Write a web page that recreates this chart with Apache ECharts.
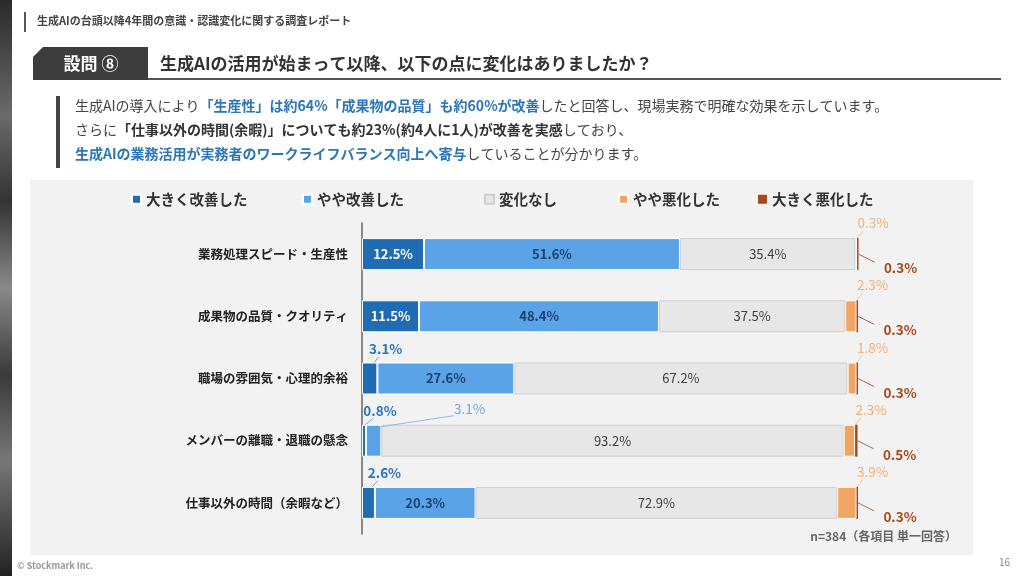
<!DOCTYPE html>
<html>
<head>
<meta charset="utf-8">
<script src="https://cdn.jsdelivr.net/npm/echarts@6/dist/echarts.min.js"></script>
<style>
  html, body { margin: 0; padding: 0; background: #fff; }
  #main { width: 1024px; height: 576px; }
</style>
</head>
<body>
<div id="main"></div>
<script>
// データ
var categories = ['業務処理スピード・生産性', '成果物の品質・クオリティ', '職場の雰囲気・心理的余裕', 'メンバーの離職・退職の懸念', '仕事以外の時間（余暇など）'];
var seriesNames = ['大きく改善した', 'やや改善した', '変化なし', 'やや悪化した', '大きく悪化した'];
var bigBetter = [12.5, 11.5, 3.1, 0.8, 2.6];
var littleBetter = [51.6, 48.4, 27.6, 3.1, 20.3];
var noChange = [35.4, 37.5, 67.2, 93.2, 72.9];
var littleWorse = [0.3, 2.3, 1.8, 2.3, 3.9];
var bigWorse = [0.3, 0.3, 0.3, 0.5, 0.3];

var allData = [bigBetter, littleBetter, noChange, littleWorse, bigWorse];
var colors = ['#1f6cb5', '#5aa3e6', '#e7e7e7', '#f2a463', '#a54a1c'];
var font = '"Noto Sans CJK JP", "Noto Sans", sans-serif';

var myChart = echarts.init(document.getElementById('main'));

var insideColors = ['#ffffff', '#1b426e', '#404040'];
var outsideColors = ['#2e75b6', '#6aaae6', '#404040', '#f0b07a', '#a54a1c'];
var lineColors = ['#7aa8d6', '#8dbbe8', '#999', '#f0c49c', '#a56a4c'];

var series = seriesNames.map(function (name, i) {
    return {
        name: name,
        type: 'bar',
        stack: 'total',
        barWidth: 32,
        data: allData[i].map(function (v) {
            return { value: v, label: { show: v >= 5 } };
        }),
        itemStyle: {
            color: colors[i],
            borderColor: i === 2 ? '#cfcfcf' : '#ffffff',
            borderWidth: i === 4 ? 0 : 1
        },
        label: {
            position: 'inside',
            fontFamily: font,
            fontSize: 13,
            fontWeight: i === 2 ? 'normal' : 'bold',
            color: insideColors[i],
            formatter: function (p) { return p.value.toFixed(1) + '%'; }
        }
    };
});

// 小さい値は外側ラベル＋引き出し線（custom系列）
var smallItems = [];
categories.forEach(function (c, j) {
    var cum = 0;
    allData.forEach(function (arr, i) {
        var v = arr[j];
        if (v < 5) smallItems.push([j, i, cum, cum + v, v]);
        cum += v;
    });
});

series.push({
    type: 'custom',
    name: 'labels',
    z: 5,
    clip: false,
    silent: true,
    encode: { x: 3, y: 0 },
    data: smallItems,
    renderItem: function (params, api) {
        var j = api.value(0), s = api.value(1);
        var p0 = api.coord([api.value(2), j]);
        var p1 = api.coord([api.value(3), j]);
        var x0 = p0[0], x1 = p1[0], yc = p0[1];
        var top = yc - 16, w = x1 - x0;
        var cx, cy, a, b;
        if (s === 0) {
            cx = x0 + w / 2 + 16; cy = top - 14;
            a = [x0 + w * 0.8, top]; b = [cx - 7, cy + 8];
        } else if (s === 1) {
            cx = x0 + w / 2 + 96; cy = top - 16;
            a = [x1, top + 2]; b = [cx - 16, cy + 7];
        } else if (s === 3) {
            cx = x1 + 16; cy = top - 15;
            a = [x1, top]; b = [cx - 10, cy + 8];
        } else {
            cx = x1 + 42; cy = yc + 14;
            a = [x1, yc]; b = [cx - 26, cy - 6];
        }
        return {
            type: 'group',
            children: [
                { type: 'line', shape: { x1: a[0], y1: a[1], x2: b[0], y2: b[1] },
                  style: { stroke: lineColors[s], lineWidth: 1 } },
                { type: 'text', style: {
                    x: cx, y: cy, text: api.value(4).toFixed(1) + '%',
                    fill: outsideColors[s], align: 'center', verticalAlign: 'middle',
                    font: ((s === 0 || s === 4) ? 'bold ' : '') + '13.5px ' + font } }
            ]
        };
    }
});

var legendLeft = [126, 297, 479, 613, 753];
var legends = seriesNames.map(function (name, i) {
    return {
        data: [name],
        left: legendLeft[i],
        top: 187,
        icon: 'rect',
        itemWidth: 9,
        itemHeight: 9,
        itemGap: 0,
        selectedMode: false,
        textStyle: { fontFamily: font, fontSize: 14.5, fontWeight: 'bold', color: '#333' }
    };
});

var q1 = '{n|生成AIの導入により}{b|「生産性」は約64%「成果物の品質」も約60%が改善}{n|したと回答し、現場実務で明確な効果を示しています。}';
var q2 = '{n|さらに}{d|「仕事以外の時間(余暇)」についても約23%(約4人に1人)が改善を実感}{n|しており、}';
var q3 = '{b|生成AIの業務活用が実務者のワークライフバランス向上へ寄与}{n|していることが分かります。}';
var rich = {
    n: { fontFamily: font, fontSize: 14, fill: '#444' },
    b: { fontFamily: font, fontSize: 14, fill: '#2e75b6', fontWeight: 'bold' },
    d: { fontFamily: font, fontSize: 14, fill: '#333', fontWeight: 'bold' }
};

option = {
    backgroundColor: '#ffffff',
    graphic: [
        // 左の帯
        { type: 'rect', left: 0, top: 0, shape: { width: 12, height: 576 },
          style: { fill: new echarts.graphic.LinearGradient(0, 0, 0, 1, [
              { offset: 0, color: '#2a2a2a' }, { offset: 0.2, color: '#6a6a6a' },
              { offset: 0.35, color: '#333' }, { offset: 0.5, color: '#8a8a8a' },
              { offset: 0.65, color: '#3a3a3a' }, { offset: 0.8, color: '#777' },
              { offset: 1, color: '#222' }]) } },
        // 上部ヘッダ
        { type: 'rect', left: 24, top: 12, shape: { width: 2, height: 20 }, style: { fill: '#555' } },
        { type: 'text', left: 37, top: 15, style: { text: '生成AIの台頭以降4年間の意識・認識変化に関する調査レポート', font: 'bold 11px ' + font, fill: '#444' } },
        // 設問タブ
        { type: 'polygon', shape: { points: [[33, 57], [43, 47], [148, 47], [148, 80], [33, 80]] }, style: { fill: '#3d3d3d' } },
        { type: 'text', x: 91, y: 64, style: { text: '設問 ⑧', font: 'bold 17px ' + font, fill: '#fff', align: 'center', verticalAlign: 'middle' } },
        { type: 'text', x: 160, y: 64, style: { text: '生成AIの活用が始まって以降、以下の点に変化はありましたか？', font: 'bold 17px ' + font, fill: '#333', verticalAlign: 'middle' } },
        { type: 'line', shape: { x1: 148, y1: 79, x2: 1001, y2: 79 }, style: { stroke: '#555', lineWidth: 2 } },
        // 説明文
        { type: 'rect', left: 56, top: 96, shape: { width: 4, height: 72 }, style: { fill: '#444' } },
        { type: 'text', x: 75, y: 106, style: { text: q1, rich: rich, verticalAlign: 'middle' } },
        { type: 'text', x: 75, y: 130, style: { text: q2, rich: rich, verticalAlign: 'middle' } },
        { type: 'text', x: 75, y: 154, style: { text: q3, rich: rich, verticalAlign: 'middle' } },
        // グラフ背景
        { type: 'rect', left: 30, top: 180, z: -10, shape: { width: 943, height: 375 }, style: { fill: '#f2f2f2' } },
        { type: 'text', x: 957, y: 536, style: { text: 'n=384（各項目 単一回答）', font: 'bold 12px ' + font, fill: '#666', align: 'right', verticalAlign: 'middle' } },
        // フッタ
        { type: 'text', x: 17, y: 566, style: { text: '© Stockmark Inc.', font: 'bold 9px ' + font, fill: '#999', verticalAlign: 'middle' } },
        { type: 'text', x: 1010, y: 562, style: { text: '16', font: '10px ' + font, fill: '#888', align: 'right', verticalAlign: 'middle' } }
    ],
    legend: legends,
    grid: {
        left: 362,
        top: 223,
        width: 501,
        height: 311
    },
    xAxis: {
        type: 'value',
        min: 0,
        max: 101,
        show: false
    },
    yAxis: {
        type: 'category',
        inverse: true,
        data: categories,
        axisTick: { show: false },
        axisLine: { show: true, lineStyle: { color: '#666', width: 1.5 } },
        axisLabel: {
            margin: 14,
            fontFamily: font,
            fontSize: 12.5,
            fontWeight: 'bold',
            color: '#222'
        }
    },
    series: series
};

myChart.setOption(option);
</script>
</body>
</html>
